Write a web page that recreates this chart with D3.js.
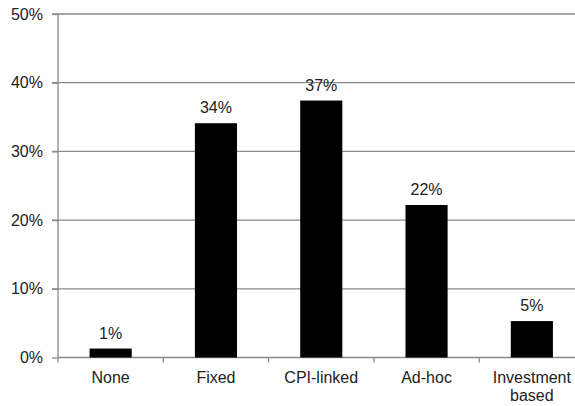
<!DOCTYPE html>
<html><head><meta charset="utf-8">
<script src="https://cdn.jsdelivr.net/npm/d3@7"></script>
<style>body{margin:0;background:#fff}svg{display:block}text{font-family:"Liberation Sans",Arial,sans-serif}</style>
</head><body>
<script>
const categories = [["None"], ["Fixed"], ["CPI-linked"], ["Ad-hoc"], ["Investment", "based"]];
const values = [1.3, 34.1, 37.4, 22.2, 5.3];
const valueLabels = ["1%", "34%", "37%", "22%", "5%"];
const yTicks = [0, 10, 20, 30, 40, 50];

const W = 575, H = 406;
const svg = d3.select("body").append("svg").attr("width", W).attr("height", H);
const x = d3.scaleBand().domain(d3.range(categories.length)).range([58, 584.5]).paddingInner(0.6).paddingOuter(0.3);
const y = d3.scaleLinear().domain([0, 50]).range([357.5, 14]);

// gridlines
svg.append("g").selectAll("line").data(yTicks.filter(d => d > 0)).join("line")
  .attr("x1", 52).attr("x2", 600).attr("y1", d => y(d)).attr("y2", d => y(d))
  .attr("stroke", "#8a8a8a").attr("stroke-width", 1.3);

// y axis
const ya = svg.append("g").attr("transform", "translate(58,0)").call(d3.axisLeft(y).tickValues(yTicks).tickFormat(d => d + "%").tickSize(6).tickPadding(9));
ya.select(".domain").attr("stroke", "#8a8a8a").attr("stroke-width", 1.3).attr("d", `M0,${y(50)}V${y(0)}`);
ya.selectAll(".tick line").attr("stroke", "#8a8a8a").attr("stroke-width", 1.3);
ya.selectAll("text").attr("font-size", 16).attr("fill", "#222").attr("font-family", "Liberation Sans, Arial, sans-serif");

// x axis
svg.append("line").attr("x1", 58).attr("x2", 600).attr("y1", y(0)).attr("y2", y(0)).attr("stroke", "#8a8a8a").attr("stroke-width", 1.3);
const bounds = d3.range(categories.length + 1).map(i => 58 + i * x.step());
svg.append("g").selectAll("line").data(bounds).join("line")
  .attr("x1", d => d).attr("x2", d => d).attr("y1", y(0)).attr("y2", y(0) + 5)
  .attr("stroke", "#8a8a8a").attr("stroke-width", 1.3);

const xl = svg.append("g").selectAll("text").data(categories).join("text")
  .attr("x", (d, i) => x(i) + x.bandwidth() / 2).attr("y", 382.5)
  .attr("text-anchor", "middle").attr("font-size", 16).attr("fill", "#222");
xl.selectAll("tspan").data(d => d).join("tspan")
  .attr("x", function () { return this.parentNode.getAttribute("x"); })
  .attr("dy", (d, i) => i === 0 ? 0 : 18).text(d => d);

// bars
svg.append("g").selectAll("rect").data(values).join("rect")
  .attr("x", (d, i) => x(i)).attr("width", x.bandwidth())
  .attr("y", d => y(d)).attr("height", d => y(0) - y(d)).attr("fill", "#000");

// value labels
svg.append("g").selectAll("text").data(values).join("text")
  .attr("x", (d, i) => x(i) + x.bandwidth() / 2).attr("y", d => y(d) - 10)
  .attr("text-anchor", "middle").attr("font-size", 16).attr("fill", "#222")
  .text((d, i) => valueLabels[i]);
</script>
</body></html>
